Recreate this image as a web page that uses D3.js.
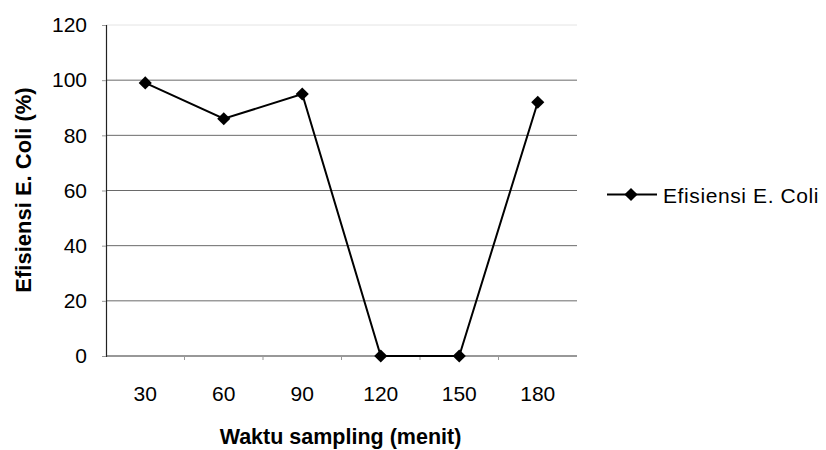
<!DOCTYPE html>
<html>
<head>
<meta charset="utf-8">
<script src="https://cdn.jsdelivr.net/npm/d3@7"></script>
<style>
    body { margin: 0; background: #fff; }
    text { font-family: "Liberation Sans", Arial, sans-serif; fill: #000; }
</style>
</head>
<body>
<svg id="chart" width="826" height="450"></svg>
<script>
const categories = ['30', '60', '90', '120', '150', '180'];
const efisiensi = [99, 86, 95, 0, 0, 92];
const yTicks = [0, 20, 40, 60, 80, 100, 120];
const seriesName = 'Efisiensi E. Coli';

const svg = d3.select('#chart');
const margin = { top: 25, left: 106, right: 249, bottom: 94 };
const width = 826 - margin.left - margin.right;
const height = 450 - margin.top - margin.bottom;

const chart = svg.append('g')
    .attr('transform', `translate(${margin.left},${margin.top})`);

const xScale = d3.scaleBand()
    .domain(categories)
    .range([0, width]);

const yScale = d3.scaleLinear()
    .domain([0, 120])
    .range([height, 0]);

// gridlines
chart.append('g')
    .selectAll('line')
    .data(yTicks.filter(d => d > 0))
    .join('line')
    .attr('x1', 0)
    .attr('x2', width)
    .attr('y1', d => yScale(d))
    .attr('y2', d => yScale(d))
    .attr('stroke', d => d === 120 ? '#e4e4e4' : '#6a6a6a')
    .attr('stroke-width', 1);

// y axis
const yAxis = chart.append('g')
    .call(d3.axisLeft(yScale).tickValues(yTicks).tickSize(4).tickPadding(15));
yAxis.select('.domain').attr('stroke', '#222').attr('stroke-width', 1.2);
yAxis.selectAll('.tick line').attr('stroke', '#999');
yAxis.selectAll('text').style('font-size', '21px');

// x axis, ticks between categories
const xAxis = chart.append('g')
    .attr('transform', `translate(0,${height})`);
xAxis.append('line')
    .attr('x1', 0).attr('x2', width)
    .attr('stroke', '#333').attr('stroke-width', 1.2);
xAxis.selectAll('.sep')
    .data(categories.slice(1))
    .join('line')
    .attr('class', 'sep')
    .attr('x1', d => xScale(d))
    .attr('x2', d => xScale(d))
    .attr('y1', 0).attr('y2', 4)
    .attr('stroke', '#999');
xAxis.selectAll('.lab')
    .data(categories)
    .join('text')
    .attr('class', 'lab')
    .attr('x', d => xScale(d) + xScale.bandwidth() / 2)
    .attr('y', 45)
    .attr('text-anchor', 'middle')
    .style('font-size', '21px')
    .text(d => d);

// line
const line = d3.line()
    .x((d, i) => xScale(categories[i]) + xScale.bandwidth() / 2)
    .y(d => yScale(d));

chart.append('path')
    .datum(efisiensi)
    .attr('fill', 'none')
    .attr('stroke', '#000')
    .attr('stroke-width', 2)
    .attr('d', line);

const diamond = d3.symbol().type(d3.symbolDiamond2).size(110);

chart.selectAll('.pt')
    .data(efisiensi)
    .join('path')
    .attr('class', 'pt')
    .attr('d', diamond)
    .attr('transform', (d, i) => `translate(${xScale(categories[i]) + xScale.bandwidth() / 2},${yScale(d)})`)
    .attr('fill', '#000');

// axis titles
svg.append('text')
    .attr('x', margin.left + width / 2 - 1)
    .attr('y', 444)
    .attr('text-anchor', 'middle')
    .style('font-size', '21.5px')
    .style('font-weight', 'bold')
    .text('Waktu sampling (menit)');

svg.append('text')
    .attr('transform', 'translate(31,190) rotate(-90)')
    .attr('text-anchor', 'middle')
    .style('font-size', '22px')
    .style('font-weight', 'bold')
    .text('Efisiensi E. Coli (%)');

// legend
const legend = svg.append('g')
    .attr('transform', `translate(607,${margin.top + yScale(60) + 4})`);
legend.append('line')
    .attr('x1', 0).attr('x2', 50)
    .attr('stroke', '#000').attr('stroke-width', 2);
legend.append('path')
    .attr('d', diamond)
    .attr('transform', 'translate(24,0)')
    .attr('fill', '#000');
legend.append('text')
    .attr('x', 56)
    .attr('y', 8)
    .style('font-size', '21px')
    .style('letter-spacing', '0.6px')
    .text(seriesName);
</script>
</body>
</html>
